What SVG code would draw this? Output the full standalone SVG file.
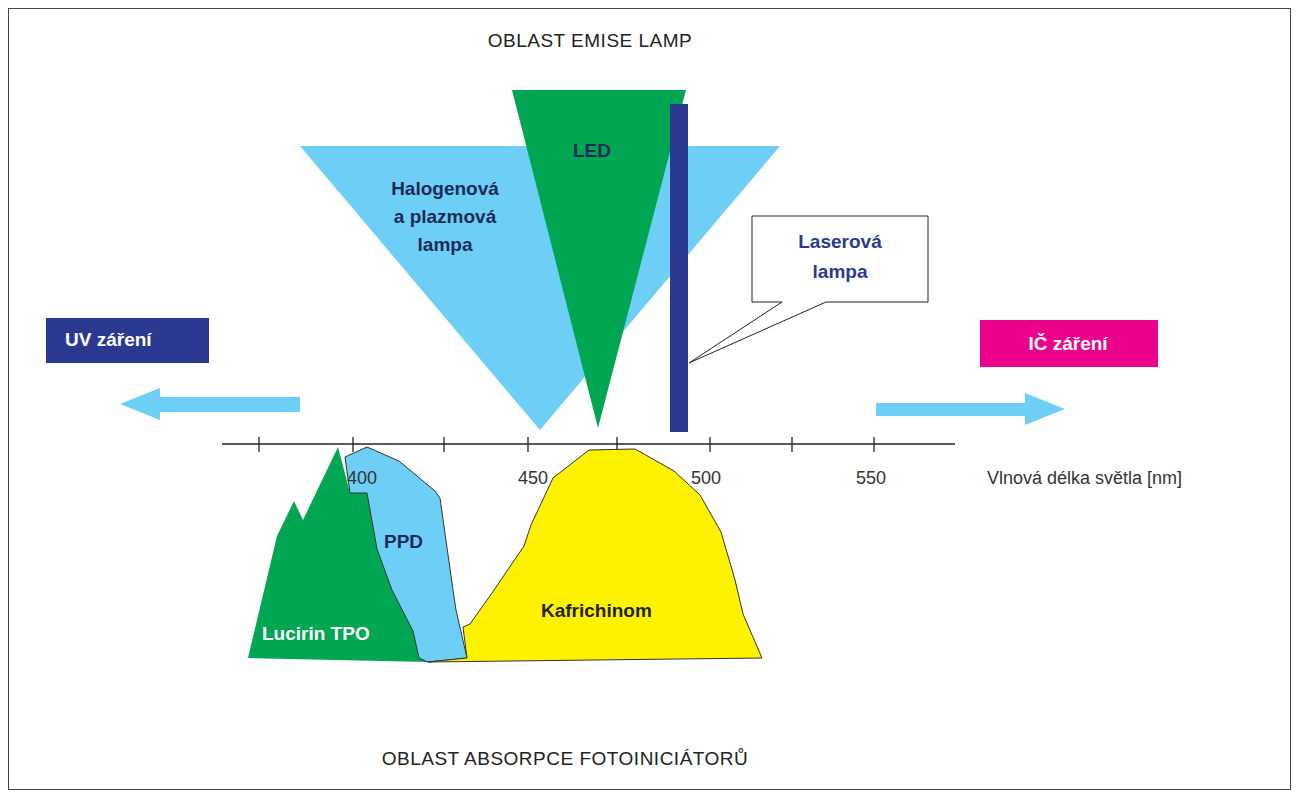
<svg xmlns="http://www.w3.org/2000/svg" width="1301" height="800" viewBox="0 0 1301 800">
<style>
text{font-family:"Liberation Sans",Arial,sans-serif}
.t{font-size:19px;fill:#222}
.b{font-size:19px;font-weight:bold}
.ax{font-size:18px;fill:#333}
.tk{stroke:#222;stroke-width:1.3}
</style>
<rect x="0" y="0" width="1301" height="800" fill="#fff"/>
<rect x="8.5" y="8.5" width="1282" height="781" fill="none" stroke="#444" stroke-width="1"/>
<text class="t" x="590" y="47" text-anchor="middle" letter-spacing="0.5">OBLAST  EMISE  LAMP</text>
<text class="t" x="565" y="765" text-anchor="middle" letter-spacing="0.5">OBLAST  ABSORPCE  FOTOINICIÁTORŮ</text>
<g id="halogen"><polygon points="300,146 780,146 540,430" fill="#6dcff6"/>
<text class="b" fill="#1d2b5a" x="445" y="195" text-anchor="middle">Halogenová</text>
<text class="b" fill="#1d2b5a" x="445" y="223" text-anchor="middle">a plazmová</text>
<text class="b" fill="#1d2b5a" x="445" y="251" text-anchor="middle">lampa</text></g>
<g id="led"><polygon points="512,90 686,90 598,428" fill="#00a651"/>
<text class="b" fill="#1d2b5a" x="592" y="157" text-anchor="middle">LED</text></g>
<g id="laser"><rect x="670" y="104" width="18" height="328" fill="#2b3990"/>
<polygon points="752,216 928,216 928,302 826,302 689,363 782,302 752,302" fill="#fff" stroke="#222" stroke-width="1"/>
<text class="b" fill="#2b3990" x="840" y="248" text-anchor="middle">Laserová</text>
<text class="b" fill="#2b3990" x="840" y="278" text-anchor="middle">lampa</text></g>
<g id="uv"><rect x="46" y="318" width="163" height="45" fill="#2b3990"/>
<text class="b" fill="#fff" x="65" y="346">UV záření</text>
<polygon points="300,397 160,397 160,388 120,404 160,420 160,412 300,412" fill="#6dcff6"/></g>
<g id="ic"><rect x="980" y="320" width="178" height="47" fill="#ec008c"/>
<text class="b" fill="#fff" x="1068" y="350" text-anchor="middle">IČ záření</text>
<polygon points="876,403 1025,403 1025,393 1065,409 1025,425 1025,416 876,416" fill="#6dcff6"/></g>
<g id="connectors">
<line class="tk" x1="222" y1="444" x2="955" y2="444"/>
<g class="tk">
<line x1="259" y1="437" x2="259" y2="452"/><line x1="353" y1="437" x2="353" y2="452"/>
<line x1="444" y1="437" x2="444" y2="452"/><line x1="528" y1="437" x2="528" y2="452"/>
<line x1="617" y1="437" x2="617" y2="452"/><line x1="710" y1="437" x2="710" y2="452"/>
<line x1="792" y1="437" x2="792" y2="452"/><line x1="874" y1="437" x2="874" y2="452"/>
</g></g>
<g id="lucirin"><polygon points="248,658 277,536 294,501 303,520 338,447 350,493 367,493 377,549 392,590 413,631 419,658 428,662" fill="#00a651"/>
<text class="b" fill="#fff" x="262" y="640">Lucirin TPO</text></g>
<g id="ppd"><polygon points="345,457 367,447 399,461 435,491 440,498 453,590 456,610 467,658 428,662 419,658 413,631 392,590 377,549 367,493 350,493" fill="#6dcff6" stroke="#333" stroke-width="1"/>
<text class="b" fill="#1d2b5a" x="384" y="548">PPD</text></g>
<g id="kafrichinom"><polygon points="428,662 467,658 463,627 470,624 492,593 524,546 531,525 553,478 589,450 635,449 674,471 700,495 721,532 735,580 743,614 762,658" fill="#fff200" stroke="#333" stroke-width="1"/>
<text class="b" fill="#222" x="541" y="617">Kafrichinom</text></g>
<text class="ax" x="362" y="484" text-anchor="middle">400</text>
<text class="ax" x="533" y="484" text-anchor="middle">450</text>
<text class="ax" x="706" y="484" text-anchor="middle">500</text>
<text class="ax" x="871" y="484" text-anchor="middle">550</text>
<text class="ax" x="987" y="484">Vlnová délka světla [nm]</text>
</svg>
